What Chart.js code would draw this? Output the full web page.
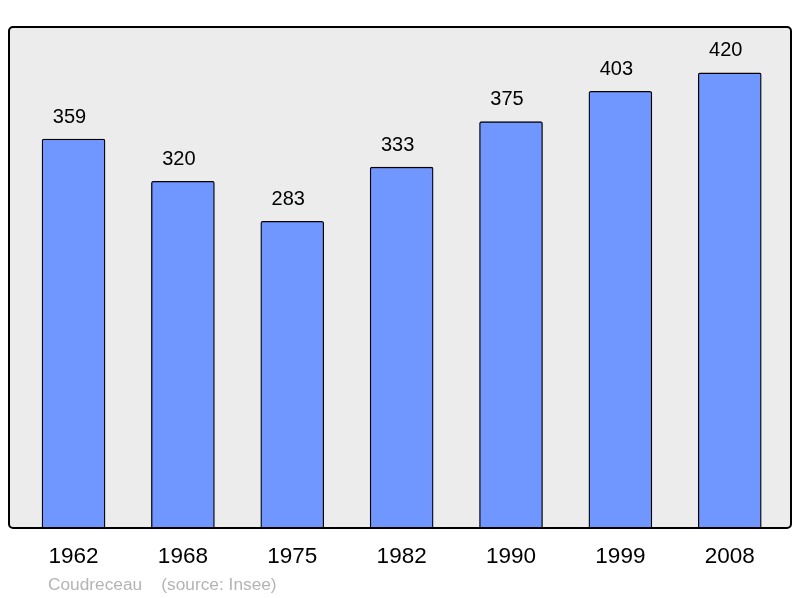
<!DOCTYPE html>
<html><head><meta charset="utf-8">
<script src="https://cdn.jsdelivr.net/npm/chart.js@4/dist/chart.umd.min.js"></script>
<style>html,body{margin:0;padding:0;background:#fff}#wrap{width:800px;height:598px}</style>
</head><body><div id="wrap"><canvas id="c" width="800" height="598"></canvas></div>
<script>
const years = ['1962','1968','1975','1982','1990','1999','2008'];
const population = [359,320,283,333,375,403,420];
const footnote = 'Coudreceau    (source: Insee)';

const FONT = '"Liberation Sans", Arial, sans-serif';
const framePlugin = {
  id: 'frame',
  beforeDraw(chart) {
    const {ctx, chartArea: a} = chart;
    ctx.save();
    ctx.beginPath();
    ctx.roundRect(a.left, a.top, a.right - a.left, a.bottom - a.top, 4);
    ctx.fillStyle = '#ececec';
    ctx.fill();
    ctx.restore();
  },
  afterDatasetsDraw(chart) {
    const {ctx, chartArea: a, scales} = chart;
    ctx.save();
    ctx.beginPath();
    ctx.roundRect(a.left, a.top, a.right - a.left, a.bottom - a.top, 4);
    ctx.lineWidth = 2;
    ctx.strokeStyle = '#000';
    ctx.stroke();
    ctx.fillStyle = '#000';
    ctx.textAlign = 'center';
    ctx.textBaseline = 'middle';
    ctx.font = '20px ' + FONT;
    population.forEach((v, i) => {
      const x = scales.x.getPixelForValue(i);
      const y = scales.y.getPixelForValue(v);
      ctx.fillText(String(v), x - 4, y - 22);
    });
    ctx.font = '22.5px ' + FONT;
    years.forEach((yr, i) => {
      ctx.fillText(yr, scales.x.getPixelForValue(i), a.bottom + 29);
    });
    ctx.textAlign = 'left';
    ctx.font = '17.3px ' + FONT;
    ctx.fillStyle = '#b4b4b4';
    ctx.fillText(footnote, 48, a.bottom + 57);
    ctx.restore();
  }
};

new Chart(document.getElementById('c'), {
  type: 'bar',
  data: {
    datasets: [{
      data: population.map((v, i) => ({x: i, y: v})),
      backgroundColor: '#7096ff',
      borderColor: '#000',
      borderWidth: 1.3,
      barThickness: 63,
      borderSkipped: 'bottom',
      borderRadius: 2
    }]
  },
  options: {
    responsive: false,
    animation: false,
    devicePixelRatio: 1,
    layout: {padding: {left: 9, right: 9, top: 27, bottom: 70}},
    plugins: {legend: {display: false}, tooltip: {enabled: false}},
    scales: {
      x: {type: 'linear', display: false, offset: false, min: -0.59, max: 6.56},
      y: {display: false, min: 0, max: 462.4}
    }
  },
  plugins: [framePlugin]
});
</script></body></html>
